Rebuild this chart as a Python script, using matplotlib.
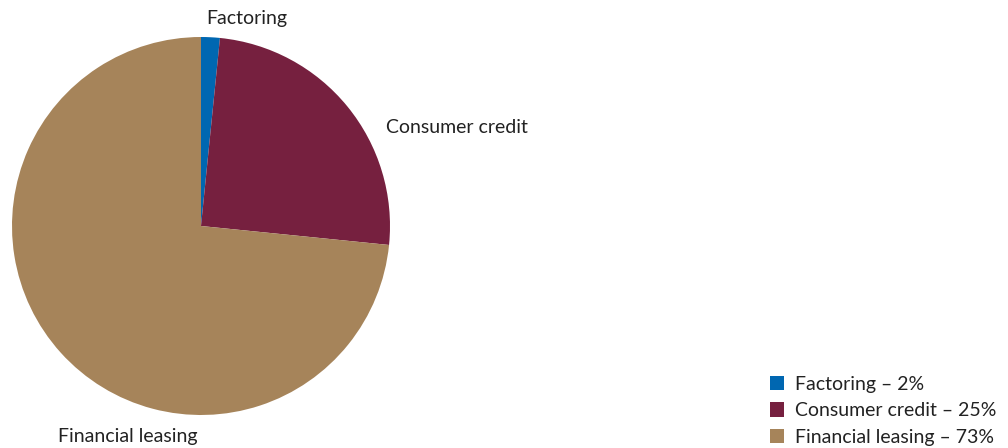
import matplotlib
matplotlib.use("Agg")
import matplotlib.pyplot as plt

categories = ["Factoring", "Consumer credit", "Financial leasing"]
values = [1.6, 25.0, 73.4]
colors = ["#0067b1", "#76203f", "#a6845a"]

plt.rcParams['font.family'] = ['Lato', 'DejaVu Sans']

fig = plt.figure(figsize=(10.08, 4.48), dpi=100)
ax = fig.add_axes([12/1008, 33/448, 378/1008, 378/448])
wedges, _ = ax.pie(values, colors=colors, startangle=90, counterclock=False,
                   radius=1.0, wedgeprops=dict(linewidth=0))
ax.set_xlim(-1, 1)
ax.set_ylim(-1, 1)
ax.set_aspect('equal')

label_pos = [(0.24, 1.10, 'center'), (0.98, 0.52, 'left'), (-0.39, -1.115, 'center')]
for cat, (x, y, ha) in zip(categories, label_pos):
    ax.text(x, y, cat, ha=ha, va='center', fontsize=14, color='#222222', clip_on=False)

labels = [f"{c} \u2013 {v:.0f}%" for c, v in zip(categories, values)]
leg = fig.legend(wedges, labels, loc='lower left', bbox_to_anchor=(762/1008, -0.012),
                 frameon=False, fontsize=14, handlelength=0.75, handleheight=0.75,
                 handletextpad=0.55, labelspacing=0.48, borderaxespad=0.0)
for t in leg.get_texts():
    t.set_color('#222222')

fig.savefig("out.png", dpi=100)
